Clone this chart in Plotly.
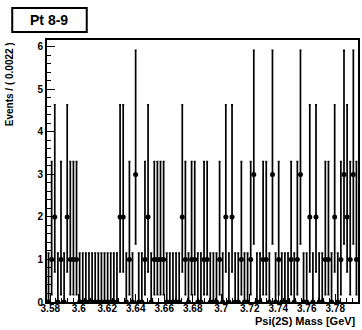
import plotly.graph_objects as go

# ---- data ----
x_lo, x_hi = 3.5777, 3.7960
nbins = 100
counts = [0, 1, 2, 0, 1, 0, 2, 1, 1, 1,
          0, 0, 0, 0, 0, 0, 0, 0, 0, 0,
          0, 0, 0, 2, 2, 0, 1, 0, 3, 0,
          0, 1, 2, 0, 1, 1, 1, 1, 0, 0,
          0, 0, 0, 2, 1, 0, 1, 1, 0, 0,
          1, 1, 0, 0, 0, 1, 0, 2, 0, 2,
          0, 0, 1, 0, 0, 1, 3, 0, 0, 1,
          1, 0, 3, 0, 1, 0, 0, 0, 1, 0,
          1, 3, 0, 0, 2, 0, 2, 0, 0, 1,
          1, 0, 2, 0, 1, 3, 2, 1, 3, 1]
# Poisson (Garwood 68%) asymmetric errors per count
err_lo = {0: 0.0, 1: 0.827, 2: 1.292, 3: 1.633}
err_hi = {0: 1.148, 1: 2.299, 2: 2.638, 3: 2.918}
x_tick_vals = [3.58, 3.60, 3.62, 3.64, 3.66, 3.68, 3.70, 3.72, 3.74, 3.76, 3.78]
x_tick_text = ["3.58", "3.6", "3.62", "3.64", "3.66", "3.68", "3.7", "3.72", "3.74", "3.76", "3.78"]
y_tick_vals = [0, 1, 2, 3, 4, 5, 6]
title_text = "Pt 8-9"
x_title = "Psi(2S) Mass [GeV]"
y_title = "Events / ( 0.0022 )"

bw = (x_hi - x_lo) / nbins
centers = [x_lo + (i + 0.5) * bw for i in range(nbins)]

# ---- layout geometry (pixels) ----
W, H = 362, 330
ml, mr, mt, mb = 47, 2, 40, 28
pw, ph = W - ml - mr, H - mt - mb


def px(x):
    return (x - ml) / pw


def py(y):
    return (H - mb - y) / ph


FONT = "Liberation Sans, Arial, Helvetica, sans-serif"

fig = go.Figure()
fig.add_trace(go.Scatter(
    x=centers, y=counts, mode="markers",
    marker=dict(color="black", size=5),
    error_y=dict(type="data", symmetric=False,
                 array=[err_hi[c] for c in counts],
                 arrayminus=[err_lo[c] for c in counts],
                 color="black", thickness=1.7, width=1),
    error_x=dict(type="data", array=[bw / 2] * nbins,
                 color="black", thickness=1.5, width=0),
    showlegend=False,
))

fig.update_layout(
    width=W, height=H,
    margin=dict(l=ml, r=mr, t=mt, b=mb, pad=0),
    paper_bgcolor="white", plot_bgcolor="white",
    font=dict(family=FONT, color="black"),
    xaxis=dict(range=[x_lo, x_hi], tickvals=x_tick_vals, ticktext=x_tick_text,
               ticks="inside", ticklen=8, tickwidth=1, tickcolor="black",
               minor=dict(ticks="inside", ticklen=4, tick0=3.58, dtick=0.004, tickcolor="black"),
               showline=True, mirror=True, linewidth=2, linecolor="black",
               showgrid=False, zeroline=False, ticklabelstandoff=-4,
               tickfont=dict(size=10, family=FONT, weight="bold")),
    yaxis=dict(range=[0, 6.16], tickvals=y_tick_vals,
               ticks="inside", ticklen=8, tickwidth=1, tickcolor="black",
               minor=dict(ticks="inside", ticklen=4, tick0=0, dtick=0.2, tickcolor="black"),
               showline=True, mirror=True, linewidth=2, linecolor="black",
               showgrid=False, zeroline=False,
               tickfont=dict(size=10, family=FONT, weight="bold")),
)

# title box
fig.add_shape(type="rect", xref="paper", yref="paper",
              x0=px(12), x1=px(87), y0=py(32), y1=py(8),
              line=dict(color="black", width=2), fillcolor="white")
fig.add_annotation(xref="paper", yref="paper", x=px(49), y=py(20),
                   text=title_text, showarrow=False,
                   font=dict(size=14, family=FONT, weight="bold"),
                   xanchor="center", yanchor="middle")
# axis titles
fig.add_annotation(xref="paper", yref="paper", x=px(360), y=py(321),
                   text=x_title, showarrow=False,
                   font=dict(size=11, family=FONT, weight="bold"),
                   xanchor="right", yanchor="middle")
fig.add_annotation(xref="paper", yref="paper", x=px(9), y=py(40),
                   text=y_title, showarrow=False, textangle=-90,
                   font=dict(size=10, family=FONT, weight="bold"),
                   xanchor="center", yanchor="top")

fig.write_html("out.html")
